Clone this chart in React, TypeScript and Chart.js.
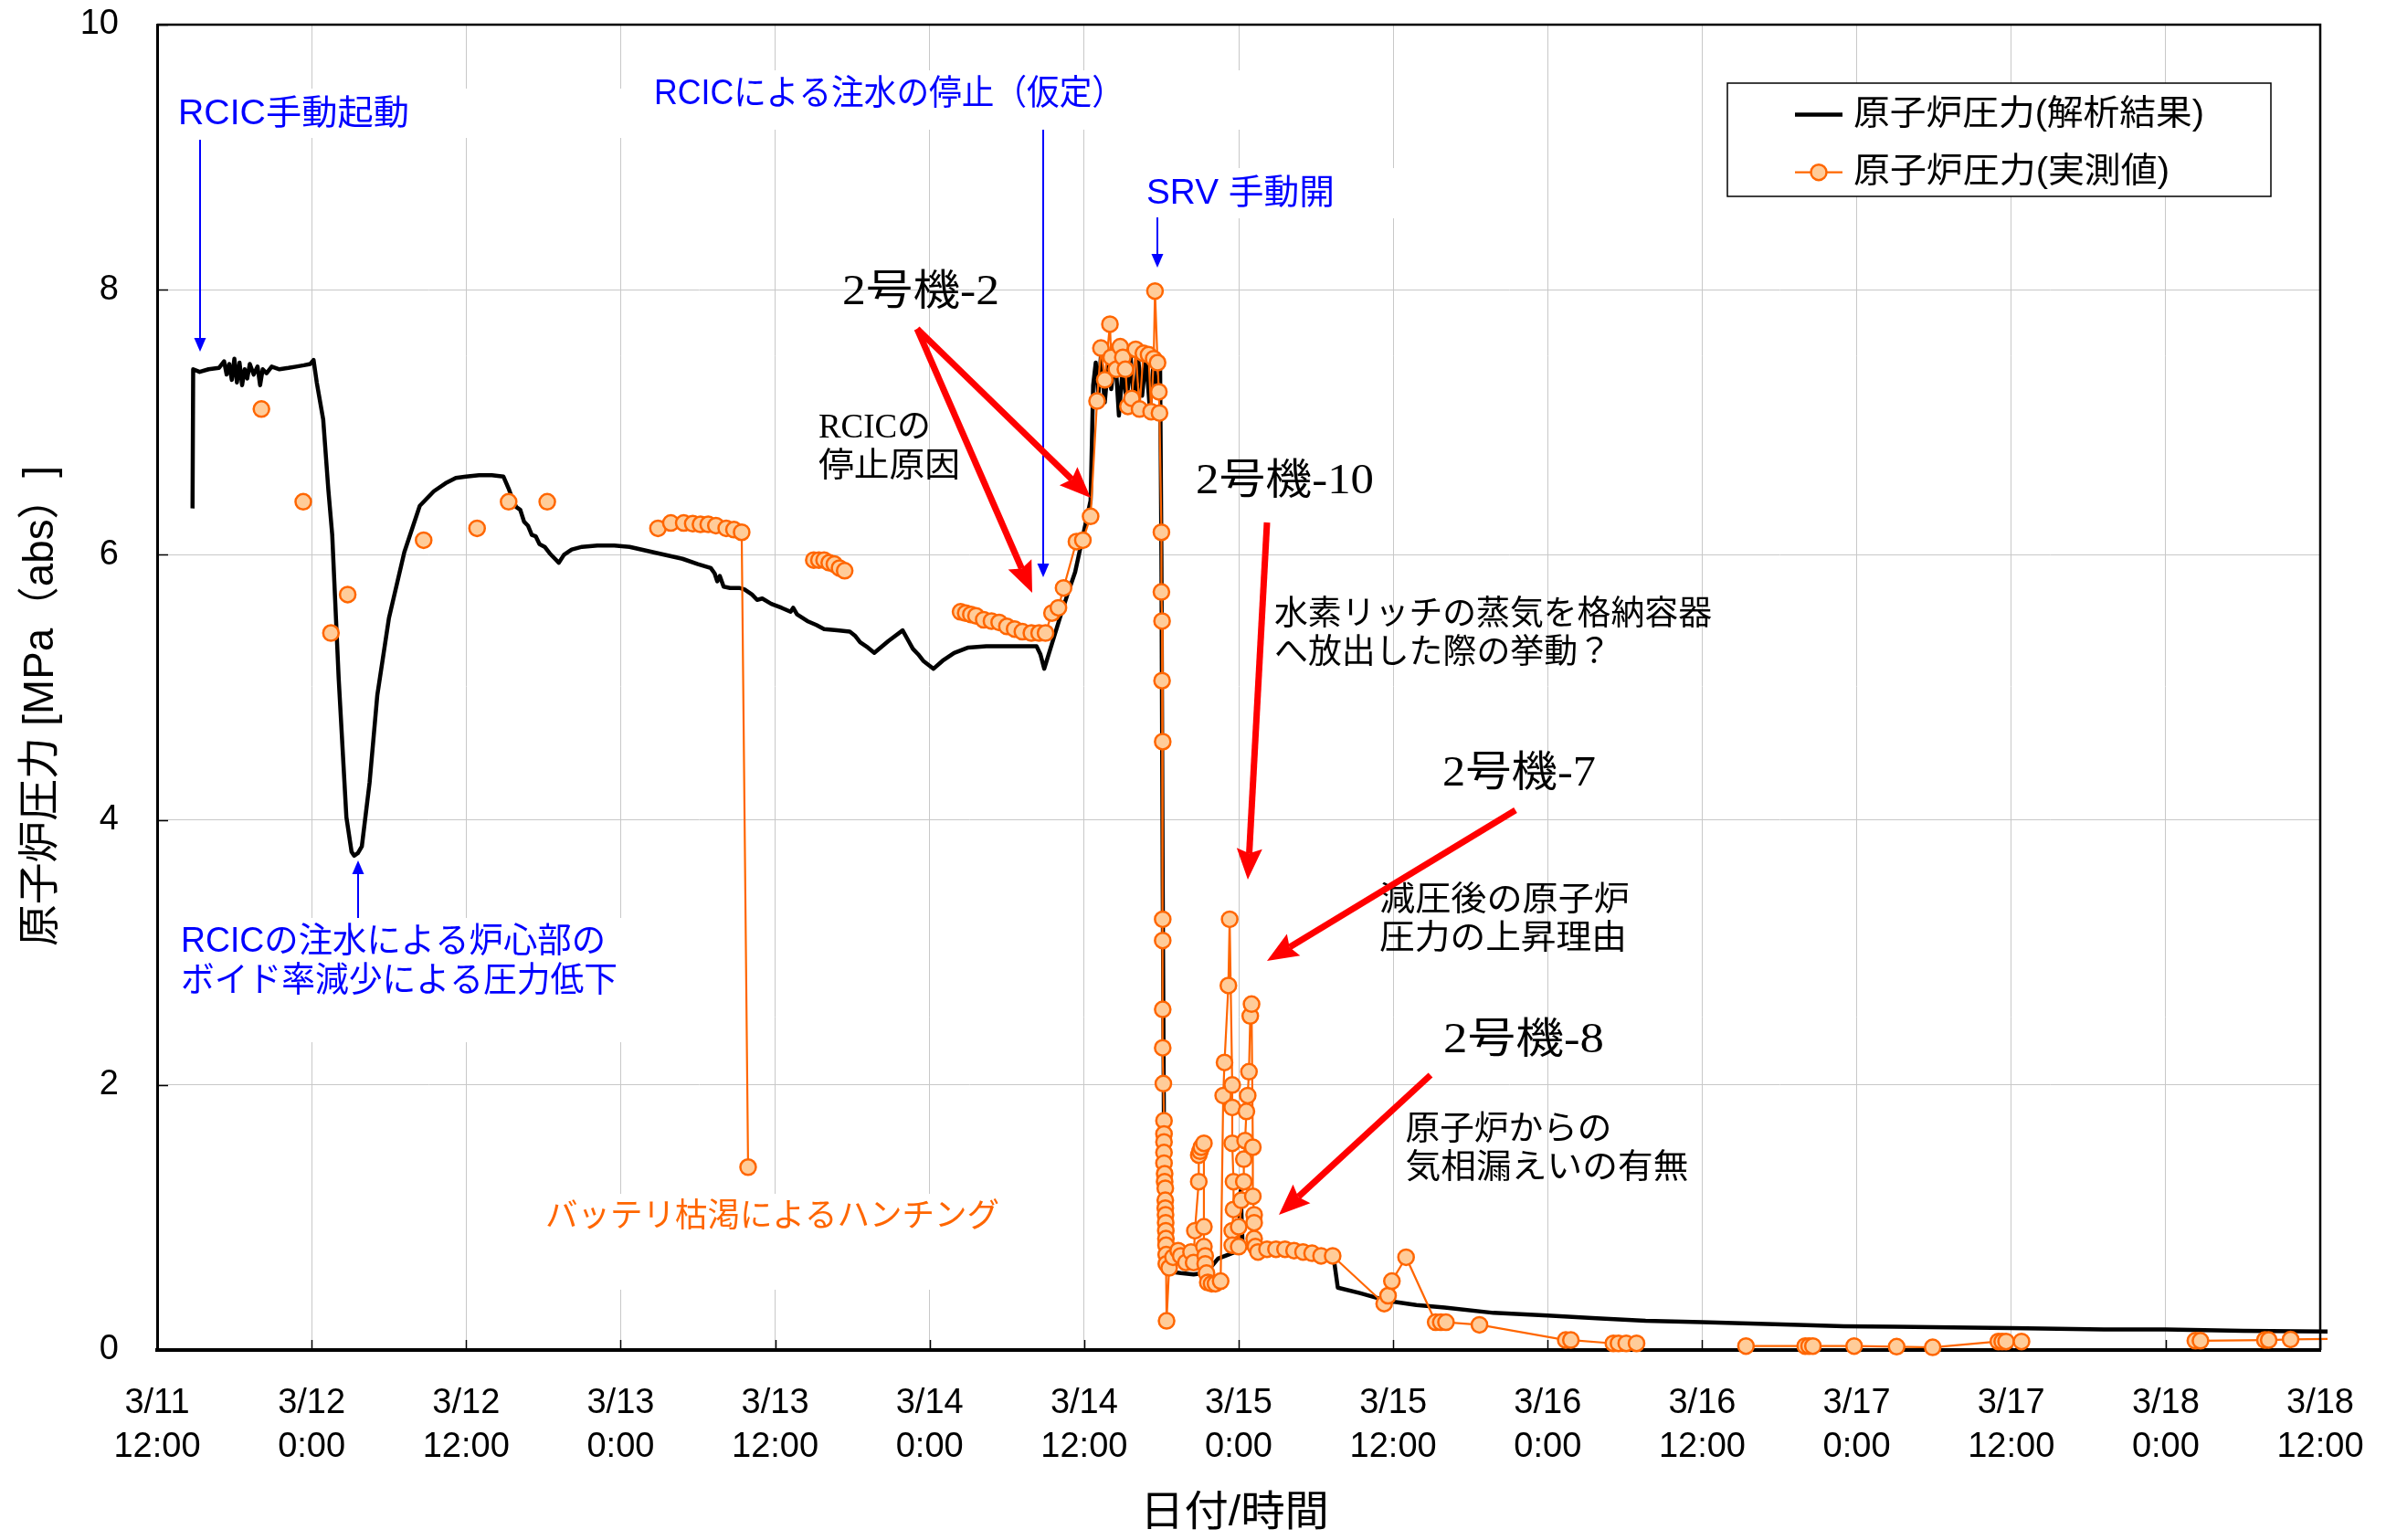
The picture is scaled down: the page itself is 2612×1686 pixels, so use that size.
import React, { useEffect, useRef } from "react";
import { Chart, registerables } from "chart.js";

Chart.register(...registerables);

// ---------------- data ----------------
// x = hours elapsed since 3/11 12:00
const xTickHours = [0, 12, 24, 36, 48, 60, 72, 84, 96, 108, 120, 132, 144, 156, 168];
const xTickDates = ["3/11", "3/12", "3/12", "3/13", "3/13", "3/14", "3/14", "3/15", "3/15", "3/16", "3/16", "3/17", "3/17", "3/18", "3/18"];
const xTickTimes = ["12:00", "0:00", "12:00", "0:00", "12:00", "0:00", "12:00", "0:00", "12:00", "0:00", "12:00", "0:00", "12:00", "0:00", "12:00"];
const yTickValues = [0, 2, 4, 6, 8, 10];

const seriesLabels = ["原子炉圧力(解析結果)", "原子炉圧力(実測値)"];
const axisTitleY = "原子炉圧力 [MPa（abs）]";
const axisTitleX = "日付/時間";

// analysis result (black line)
const analysisHours = [
  2.75, 2.8, 3.3, 4.0, 4.8, 5.2, 5.4, 5.6, 5.8, 6.0, 6.2, 6.4, 6.6, 6.8, 7.0, 7.2, 7.5, 7.8, 8.0, 8.2, 8.5, 8.9,
  9.5, 10.2, 10.8, 11.4, 11.9, 12.15, 12.4, 12.9, 13.3, 13.6, 14.1, 14.7, 15.1, 15.3, 15.6, 15.9, 16.5, 17.1, 18.0,
  19.2, 20.4, 21.5, 22.4, 23.2, 24.0, 25.0, 26.0, 26.9, 27.3, 27.6, 27.9, 28.2, 28.5, 28.8, 29.1, 29.4, 29.7, 30.1,
  30.5, 30.9, 31.2, 31.6, 32.2, 33.0, 34.2, 35.5, 36.7, 38.5, 40.8, 42.0, 43.0, 43.3, 43.5, 43.7, 44.0, 44.5, 45.2,
  45.6, 46.2, 46.6, 47.0, 47.7, 48.5, 49.2, 49.4, 49.7, 50.5, 51.2, 51.8, 52.8, 53.8, 54.2, 54.6, 55.2, 55.7, 56.8,
  57.9, 58.3, 58.7, 59.1, 59.5, 60.3, 61.0, 61.9, 63.0, 64.4, 66.0, 68.3, 68.6, 68.9, 69.5, 70.1, 70.7, 71.3, 72.1,
  72.5, 72.7, 72.9, 73.1, 73.3, 73.6, 73.9, 74.1, 74.4, 74.7, 75.0, 75.3, 75.6, 75.9, 76.2, 76.5, 76.8, 77.1, 77.4,
  77.7, 77.9, 78.0, 78.1, 78.2, 78.3, 78.45, 78.7, 79.5, 80.5, 81.3, 81.8, 82.4, 83.2, 84.0, 84.15, 84.3, 85.0, 87.0,
  89.0, 91.2, 91.4, 91.7, 93.4, 95.6, 97.8, 100.0, 103.8, 108.0, 111.8, 115.6, 120.0, 127.5, 131.0, 135.0, 139.4,
  144.0, 151.2, 156.0, 162.0, 168.6,
];
const analysisMPa = [
  6.35, 7.40, 7.38, 7.40, 7.41, 7.46, 7.36, 7.44, 7.32, 7.48, 7.30, 7.45, 7.28, 7.40, 7.33, 7.44, 7.36, 7.42, 7.28, 7.40, 7.37, 7.42,
  7.40, 7.41, 7.42, 7.43, 7.44, 7.47, 7.30, 7.02, 6.49, 6.15, 5.07, 4.02, 3.76, 3.73, 3.75, 3.80, 4.28, 4.94, 5.52,
  6.02, 6.37, 6.48, 6.54, 6.58, 6.59, 6.60, 6.60, 6.59, 6.50, 6.42, 6.36, 6.34, 6.25, 6.22, 6.15, 6.14, 6.08, 6.06,
  6.01, 5.97, 5.94, 6.00, 6.04, 6.06, 6.07, 6.07, 6.06, 6.02, 5.97, 5.93, 5.90, 5.86, 5.80, 5.84, 5.76, 5.75, 5.75,
  5.74, 5.70, 5.66, 5.67, 5.63, 5.60, 5.57, 5.60, 5.55, 5.50, 5.47, 5.44, 5.43, 5.42, 5.39, 5.34, 5.30, 5.26, 5.35,
  5.43, 5.36, 5.29, 5.25, 5.20, 5.14, 5.20, 5.26, 5.30, 5.31, 5.31, 5.31, 5.25, 5.14, 5.33, 5.52, 5.70, 5.87, 6.23,
  6.41, 7.28, 7.45, 7.20, 7.50, 7.15, 7.48, 7.25, 7.52, 7.05, 7.42, 7.15, 7.50, 7.10, 7.47, 7.20, 7.49, 7.10, 7.46,
  7.20, 7.40, 6.00, 3.50, 1.60, 0.90, 0.65, 0.59, 0.58, 0.57, 0.58, 0.62, 0.69, 0.72, 0.75, 1.20, 0.80, 0.76, 0.75,
  0.74, 0.72, 0.68, 0.47, 0.43, 0.37, 0.34, 0.32, 0.28, 0.26, 0.24, 0.22, 0.21, 0.19, 0.18, 0.175, 0.17,
  0.165, 0.155, 0.155, 0.145, 0.14,
];

// measured values (orange); null marks a break in the measured record
const measuredHours = [
  8.1, null, 11.35, null, 13.5, null, 14.8, null, 20.7, null, 24.85, null, 27.3, null, 30.3, null,
  38.9, 39.9, 40.9, 41.6, 42.2, 42.8, 43.4, 44.2, 44.8, 45.4, 45.9, null,
  51.0, 51.4, 51.8, 52.2, 52.6, 53.0, 53.4, null,
  62.4, 62.8, 63.2, 63.6, 64.2, 64.8, 65.4, 66.0, 66.6, 67.2, 67.9, 68.5, 69.0, 69.5, 70.0, 70.4, 71.4, 71.9, 72.5,
  73.0, 73.3, 73.6, 74.0, 74.1, 74.5, 74.8, 75.0, 75.2, 75.4, 75.7, 76.0, 76.3, 76.6, 77.0, 77.2, 77.4, 77.5, 77.7,
  77.8, 77.85, 78.0, 78.0, 78.05, 78.05, 78.1, 78.1, 78.1, 78.1, 78.1, 78.15, 78.2, 78.2, 78.2, 78.2, 78.2, 78.25,
  78.25, 78.3, 78.3, 78.3, 78.32, 78.33, 78.34, 78.35, 78.36, 78.37, 78.38, 78.4, 78.6, 78.9, 79.3, 79.5, 79.9,
  80.3, 80.5, 80.6, 80.9, 80.9, 81.0, 81.1, 81.3, 81.3, 81.3, 81.4, 81.4, 81.5, 81.6, 81.9, 82.2, 82.6, 82.8, 82.9,
  83.2, 83.3, 83.5, 83.5, 83.5, 83.6, 83.6, 83.5, 83.5, 84.0, 84.0, 84.2, 84.4, 84.4, 84.5, 84.6, 84.7, 84.8, 84.9,
  85.0, 85.1, 85.1, 85.2, 85.2, 85.2, 85.3, 85.5, 86.2, 86.9, 87.6, 88.3, 89.0, 89.7, 90.4, 91.3, 95.3, 95.6, 95.9,
  97.0, 99.3, 99.7, 100.1, 102.7, 109.4, 109.8, 113.1, 113.5, 114.1, 114.9, null,
  123.4, 128.0, 128.3, 128.6, 131.8, 135.1, 137.9, 143.0, 143.3, 143.6, 144.8, null,
  158.3, 158.7, 163.7, 164.0, 165.7, 170.0,
];
const measuredMPa = [
  7.10, null, 6.40, null, 5.41, null, 5.70, null, 6.11, null, 6.20, null, 6.40, null, 6.40, null,
  6.20, 6.24, 6.24, 6.235, 6.23, 6.23, 6.22, 6.20, 6.19, 6.17, 1.38, null,
  5.96, 5.96, 5.96, 5.94, 5.93, 5.90, 5.88, null,
  5.57, 5.56, 5.55, 5.54, 5.51, 5.50, 5.49, 5.46, 5.44, 5.42, 5.41, 5.41, 5.41, 5.56, 5.60, 5.75, 6.10, 6.11, 6.29,
  7.16, 7.56, 7.32, 7.74, 7.49, 7.40, 7.57, 7.49, 7.40, 7.12, 7.18, 7.55, 7.10, 7.52, 7.51, 7.08, 7.48, 7.99, 7.45,
  7.23, 7.07, 6.17, 5.72, 5.50, 5.05, 4.59, 3.25, 3.09, 2.57, 2.28, 2.01, 1.73, 1.63, 1.57, 1.49, 1.41, 1.33,
  1.27, 1.22, 1.13, 1.07, 1.02, 0.96, 0.90, 0.84, 0.79, 0.72, 0.65, 0.22, 0.62, 0.70, 0.75, 0.71, 0.66,
  0.74, 0.66, 0.90, 1.27, 1.47, 1.50, 1.53, 1.56, 0.93, 0.78, 0.71, 0.65, 0.58, 0.51, 0.50, 0.50, 0.52, 1.92, 2.17,
  2.75, 3.25, 2.00, 1.83, 1.56, 1.27, 1.06, 0.90, 0.79, 0.93, 0.78, 1.13, 1.27, 1.44, 1.58, 1.80, 1.92, 2.10, 2.52,
  2.61, 1.53, 1.16, 1.02, 0.96, 0.84, 0.78, 0.74, 0.76, 0.76, 0.76, 0.75, 0.74, 0.73, 0.71, 0.71, 0.35, 0.41, 0.52,
  0.70, 0.21, 0.21, 0.21, 0.19, 0.075, 0.075, 0.05, 0.05, 0.05, 0.05, null,
  0.03, 0.03, 0.03, 0.03, 0.03, 0.025, 0.02, 0.064, 0.064, 0.064, 0.064, null,
  0.07, 0.07, 0.075, 0.075, 0.08, 0.085,
];

// ---------------- drawing helpers ----------------
const SANS = '"Liberation Sans", "Noto Sans CJK JP", sans-serif';
const SERIF = '"Liberation Serif", "Noto Sans CJK JP", serif';
const BLUE = "#0000FF";
const ORANGE = "#FF6600";
const PEACH = "#FFCC99";
const RED = "#FF0000";

function drawText(ctx: CanvasRenderingContext2D, text: string, x: number, y: number, font: string, color: string, width: number) {
  ctx.save();
  ctx.font = font;
  ctx.fillStyle = color;
  ctx.textAlign = "left";
  ctx.textBaseline = "middle";
  const w = ctx.measureText(text).width || 1;
  ctx.translate(x, y);
  ctx.scale(width / w, 1);
  ctx.fillText(text, 0, 0);
  ctx.restore();
}

function drawArrow(ctx: CanvasRenderingContext2D, x1: number, y1: number, x2: number, y2: number, color: string, lw: number, headLen: number, headW: number, notch: number) {
  const a = Math.atan2(y2 - y1, x2 - x1);
  const c = Math.cos(a), s = Math.sin(a);
  const bx = x2 - headLen * c, by = y2 - headLen * s;
  const nx = x2 - headLen * (1 - notch) * c, ny = y2 - headLen * (1 - notch) * s;
  ctx.save();
  ctx.strokeStyle = color;
  ctx.fillStyle = color;
  ctx.lineWidth = lw;
  ctx.lineCap = "butt";
  ctx.beginPath();
  ctx.moveTo(x1, y1);
  ctx.lineTo(nx, ny);
  ctx.stroke();
  ctx.beginPath();
  ctx.moveTo(x2, y2);
  ctx.lineTo(bx - (headW / 2) * s, by + (headW / 2) * c);
  ctx.lineTo(nx, ny);
  ctx.lineTo(bx + (headW / 2) * s, by - (headW / 2) * c);
  ctx.closePath();
  ctx.fill();
  ctx.restore();
}

const annotationPlugin = {
  id: "annotations",
  beforeDatasetsDraw(chart: any) {
    const ctx: CanvasRenderingContext2D = chart.ctx;
    const area = chart.chartArea;
    const xs = chart.scales.x;
    const ys = chart.scales.y;
    ctx.save();
    // white text boxes hiding the grid
    ctx.fillStyle = "#ffffff";
    ctx.fillRect(190, 97, 500, 54);
    ctx.fillRect(700, 77, 700, 65);
    ctx.fillRect(1245, 184, 290, 55);
    ctx.fillRect(185, 1005, 520, 136);
    ctx.fillRect(585, 1307, 525, 105);
    // inward tick marks
    ctx.strokeStyle = "#000";
    ctx.lineWidth = 1.5;
    ctx.beginPath();
    for (const v of xTickHours) {
      const px = Math.round(xs.getPixelForValue(v)) + 0.5;
      ctx.moveTo(px, area.bottom);
      ctx.lineTo(px, area.bottom - 11);
    }
    for (const v of yTickValues) {
      const py = Math.round(ys.getPixelForValue(v)) + 0.5;
      ctx.moveTo(area.left, py);
      ctx.lineTo(area.left + 12, py);
    }
    ctx.stroke();
    ctx.restore();
  },
  afterDraw(chart: any) {
    const ctx: CanvasRenderingContext2D = chart.ctx;
    const area = chart.chartArea;
    ctx.save();
    // top/right frame
    ctx.strokeStyle = "#000";
    ctx.lineWidth = 2.5;
    ctx.beginPath();
    ctx.moveTo(area.left, area.top);
    ctx.lineTo(area.right, area.top);
    ctx.lineTo(area.right, area.bottom);
    ctx.stroke();

    // axis titles
    ctx.save();
    ctx.translate(45, 773);
    ctx.rotate(-Math.PI / 2);
    drawText(ctx, axisTitleY, -263, 0, `46px ${SANS}`, "#000", 526);
    ctx.restore();
    drawText(ctx, axisTitleX, 1248, 1657, `46px ${SANS}`, "#000", 207);

    // blue annotations
    const bf = `38px ${SANS}`;
    drawText(ctx, "RCIC手動起動", 195, 125.5, bf, BLUE, 253);
    drawText(ctx, "RCICによる注水の停止（仮定）", 716, 103.7, bf, BLUE, 515);
    drawText(ctx, "SRV 手動開", 1255, 212.4, bf, BLUE, 206);
    drawText(ctx, "RCICの注水による炉心部の", 198, 1031.5, bf, BLUE, 465);
    drawText(ctx, "ボイド率減少による圧力低下", 198, 1074.5, bf, BLUE, 478);
    drawText(ctx, "バッテリ枯渇によるハンチング", 597, 1332.6, `36px ${SANS}`, ORANGE, 497);
    drawArrow(ctx, 219, 153, 219, 385, BLUE, 2, 15, 13, 0);
    drawArrow(ctx, 1142, 142, 1142, 632, BLUE, 2, 15, 13, 0);
    drawArrow(ctx, 1267, 238, 1267, 293, BLUE, 2, 15, 13, 0);
    drawArrow(ctx, 392, 1005, 392, 942, BLUE, 2, 15, 13, 0);

    // black (serif) annotations
    const big = `46px ${SERIF}`;
    const sm = `37px ${SERIF}`;
    drawText(ctx, "2号機-2", 922, 320.5, big, "#000", 172);
    drawText(ctx, "RCICの", 896, 469, sm, "#000", 123);
    drawText(ctx, "停止原因", 896, 512, sm, "#000", 155);
    drawText(ctx, "2号機-10", 1309, 528, big, "#000", 195);
    drawText(ctx, "水素リッチの蒸気を格納容器", 1395, 674, sm, "#000", 479);
    drawText(ctx, "へ放出した際の挙動？", 1395, 716, sm, "#000", 369);
    drawText(ctx, "2号機-7", 1579, 847.6, big, "#000", 168);
    drawText(ctx, "減圧後の原子炉", 1510, 987, sm, "#000", 274);
    drawText(ctx, "圧力の上昇理由", 1510, 1029, sm, "#000", 271);
    drawText(ctx, "2号機-8", 1580, 1140, big, "#000", 176);
    drawText(ctx, "原子炉からの", 1538.5, 1238, sm, "#000", 226);
    drawText(ctx, "気相漏えいの有無", 1538.5, 1280, sm, "#000", 310);

    // red arrows
    drawArrow(ctx, 1004, 360, 1130, 649, RED, 7, 34, 28, 0.15);
    drawArrow(ctx, 1004, 360, 1194, 545, RED, 7, 34, 28, 0.15);
    drawArrow(ctx, 1387, 572, 1366, 963, RED, 7, 34, 28, 0.15);
    drawArrow(ctx, 1659, 887, 1387, 1052, RED, 7, 34, 28, 0.15);
    drawArrow(ctx, 1566, 1177, 1400, 1330, RED, 7, 34, 28, 0.15);

    // legend
    const ds = chart.data.datasets;
    ctx.fillStyle = "#fff";
    ctx.fillRect(1891, 91, 595, 124);
    ctx.strokeStyle = "#000";
    ctx.lineWidth = 1.5;
    ctx.strokeRect(1891, 91, 595, 124);
    const rows = [125.5, 188.7];
    const widths = [384, 346];
    ds.forEach((d: any, i: number) => {
      const y = rows[i];
      ctx.strokeStyle = d.borderColor;
      ctx.lineWidth = d.borderWidth;
      ctx.beginPath();
      ctx.moveTo(1965, y);
      ctx.lineTo(2017, y);
      ctx.stroke();
      if (d.pointRadius > 0) {
        ctx.beginPath();
        ctx.arc(1991, y, d.pointRadius, 0, Math.PI * 2);
        ctx.fillStyle = d.pointBackgroundColor;
        ctx.fill();
        ctx.lineWidth = d.pointBorderWidth;
        ctx.strokeStyle = d.pointBorderColor;
        ctx.stroke();
      }
      drawText(ctx, d.label, 2029, y, `38px ${SANS}`, "#000", widths[i]);
    });
    ctx.restore();
  },
};

export default function App() {
  const canvasRef = useRef<HTMLCanvasElement | null>(null);

  useEffect(() => {
    const canvas = canvasRef.current;
    if (!canvas) return;
    const analysisData = analysisHours.map((h, i) => ({ x: h, y: analysisMPa[i] }));
    const measuredData = measuredHours.map((h, i) => ({ x: h, y: measuredMPa[i] }));
    const clip = { left: 10, top: 10, right: 8, bottom: 14 };
    const chart = new Chart(canvas, {
      type: "line",
      data: {
        datasets: [
          {
            label: seriesLabels[0],
            data: analysisData,
            borderColor: "#000000",
            backgroundColor: "#000000",
            borderWidth: 4.5,
            borderJoinStyle: "round",
            pointRadius: 0,
            pointHoverRadius: 0,
            tension: 0,
            order: 2,
            clip,
          },
          {
            label: seriesLabels[1],
            data: measuredData,
            borderColor: ORANGE,
            backgroundColor: PEACH,
            borderWidth: 2.2,
            pointRadius: 8.5,
            pointHoverRadius: 8.5,
            pointBorderWidth: 2.5,
            pointBackgroundColor: PEACH,
            pointBorderColor: ORANGE,
            tension: 0,
            spanGaps: false,
            order: 1,
            clip,
          },
        ],
      } as any,
      options: {
        responsive: false,
        animation: false,
        devicePixelRatio: 1,
        events: [],
        layout: { padding: { left: 0, top: 27, right: 72, bottom: 0 } },
        plugins: {
          legend: { display: false },
          tooltip: { enabled: false },
          title: { display: false },
        },
        scales: {
          x: {
            type: "linear",
            min: 0,
            max: 168,
            afterFit: (s: any) => {
              s.height = 208;
              s.paddingLeft = 0;
              s.paddingRight = 0;
            },
            afterBuildTicks: (s: any) => {
              s.ticks = xTickHours.map((v) => ({ value: v }));
            },
            ticks: {
              autoSkip: false,
              maxRotation: 0,
              minRotation: 0,
              padding: 34,
              color: "#000",
              font: { family: '"Liberation Sans", Arial, sans-serif', size: 38, lineHeight: 1.28 },
              callback: (v: any) => {
                const i = xTickHours.indexOf(Number(v));
                return i >= 0 ? [xTickDates[i], xTickTimes[i]] : "";
              },
            },
            grid: { color: "#c8c8c8", lineWidth: 1, drawTicks: false },
            border: { display: true, color: "#000", width: 4 },
          },
          y: {
            type: "linear",
            min: 0,
            max: 10,
            afterFit: (s: any) => {
              s.width = 172;
              s.paddingTop = 0;
              s.paddingBottom = 0;
            },
            afterBuildTicks: (s: any) => {
              s.ticks = yTickValues.map((v) => ({ value: v }));
            },
            ticks: {
              padding: 42,
              color: "#000",
              font: { family: '"Liberation Sans", Arial, sans-serif', size: 38 },
              callback: (v: any) => String(v),
            },
            grid: { color: "#c8c8c8", lineWidth: 1, drawTicks: false },
            border: { display: true, color: "#000", width: 3 },
          },
        },
      } as any,
      plugins: [annotationPlugin],
    });
    return () => chart.destroy();
  }, []);

  return (
    <div style={{ position: "absolute", left: 0, top: 0, width: 2612, height: 1686, background: "#fff" }}>
      <canvas ref={canvasRef} width={2612} height={1686} style={{ width: 2612, height: 1686, display: "block" }} />
    </div>
  );
}
